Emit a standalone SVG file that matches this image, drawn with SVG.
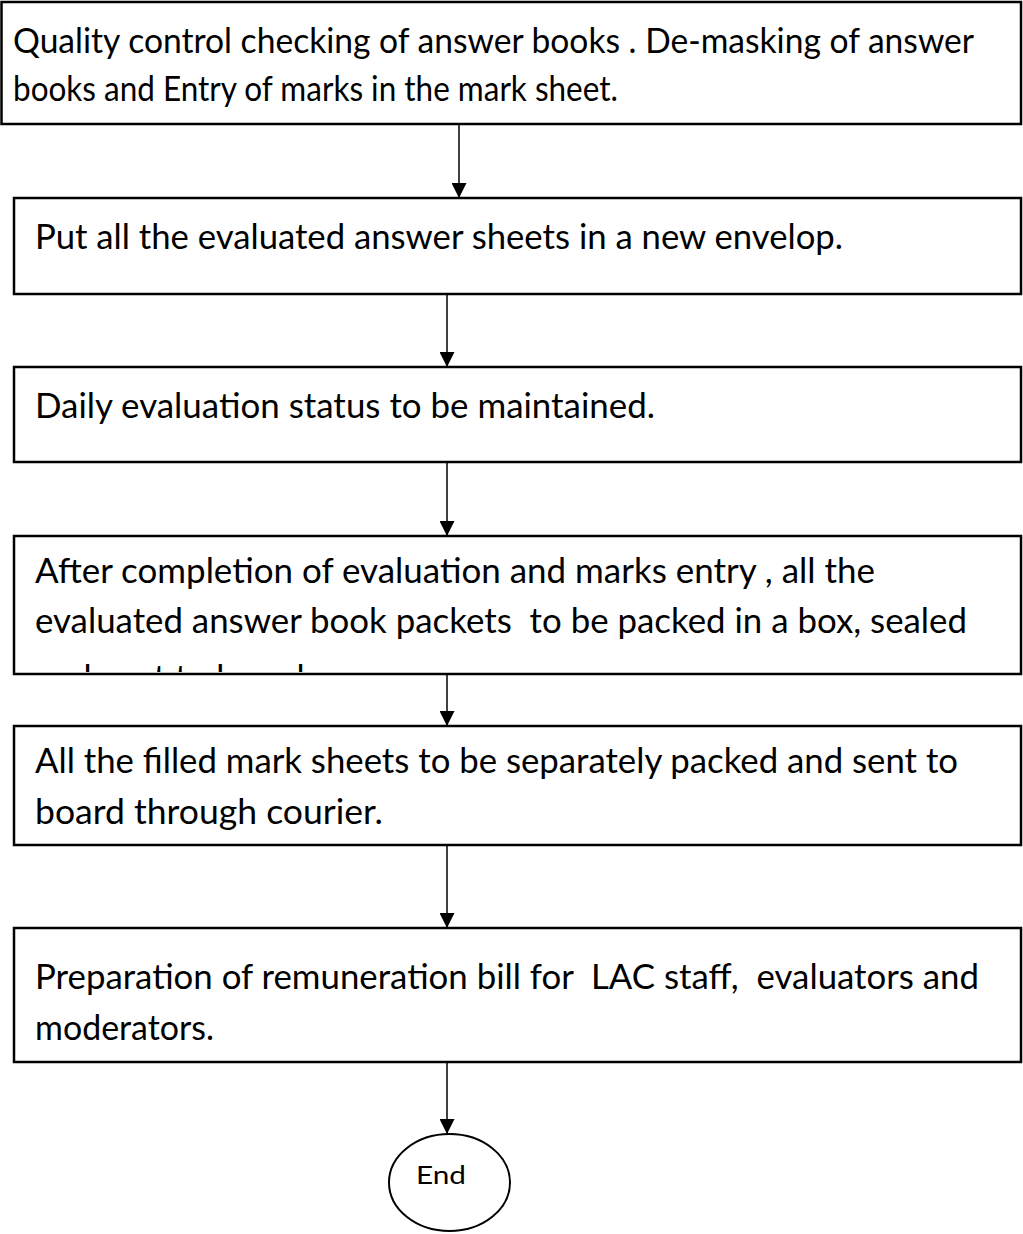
<svg xmlns="http://www.w3.org/2000/svg" width="1023" height="1234" viewBox="0 0 1023 1234">
  <defs>
    <marker id="arrow" viewBox="0 0 15 15" refX="15" refY="7.5" markerWidth="15" markerHeight="15" markerUnits="userSpaceOnUse" orient="auto">
      <path d="M0,0 L15,7.5 L0,15 Z" fill="#000"/>
    </marker>
    <clipPath id="clip4">
      <rect x="14" y="537" width="1006" height="135"/>
    </clipPath>
  </defs>
  <style>
    .box { fill: #fff; stroke: #000; stroke-width: 2.5; }
    .lbl { font-family: Lato, "Open Sans", "Liberation Sans", sans-serif; font-size: 35px; fill: #000; }
    .end { font-family: Lato, "Open Sans", "Liberation Sans", sans-serif; font-size: 25px; fill: #000; }
    .conn { stroke: #000; stroke-width: 1.5; fill: none; marker-end: url(#arrow); }
  </style>
  <rect width="1023" height="1234" fill="#fff"/>

  <!-- connectors -->
  <g id="connectors">
    <line class="conn" x1="459" y1="124" x2="459" y2="198"/>
    <line class="conn" x1="447" y1="294" x2="447" y2="367"/>
    <line class="conn" x1="447" y1="462" x2="447" y2="536"/>
    <line class="conn" x1="447" y1="674" x2="447" y2="726"/>
    <line class="conn" x1="447" y1="845" x2="447" y2="928"/>
    <line class="conn" x1="447" y1="1062" x2="447" y2="1134"/>
  </g>

  <g id="step1">
    <rect class="box" x="1.5" y="2" width="1019.5" height="122"/>
    <text class="lbl" x="13" y="53" textLength="961" lengthAdjust="spacingAndGlyphs">Quality control checking of answer books . De-masking of answer</text>
    <text class="lbl" x="13" y="101" textLength="605" lengthAdjust="spacingAndGlyphs">books and Entry of marks in the mark sheet.</text>
  </g>

  <g id="step2">
    <rect class="box" x="14" y="198" width="1007" height="96"/>
    <text class="lbl" x="35" y="249" textLength="808" lengthAdjust="spacingAndGlyphs">Put all the evaluated answer sheets in a new envelop.</text>
  </g>

  <g id="step3">
    <rect class="box" x="14" y="367" width="1007" height="95"/>
    <text class="lbl" x="35" y="418" textLength="620" lengthAdjust="spacingAndGlyphs">Daily evaluation status to be maintained.</text>
  </g>

  <g id="step4">
    <rect class="box" x="14" y="536" width="1007" height="138"/>
    <g clip-path="url(#clip4)">
      <text class="lbl" x="35" y="583" textLength="840" lengthAdjust="spacingAndGlyphs">After completion of evaluation and marks entry , all the</text>
      <text class="lbl" x="35" y="633" textLength="932" lengthAdjust="spacingAndGlyphs" xml:space="preserve">evaluated answer book packets  to be packed in a box, sealed</text>
      <text class="lbl" x="35" y="690">and sent to board.</text>
    </g>
  </g>

  <g id="step5">
    <rect class="box" x="14" y="726" width="1007" height="119"/>
    <text class="lbl" x="35" y="773" textLength="923" lengthAdjust="spacingAndGlyphs">All the filled mark sheets to be separately packed and sent to</text>
    <text class="lbl" x="35" y="824" textLength="348" lengthAdjust="spacingAndGlyphs">board through courier.</text>
  </g>

  <g id="step6">
    <rect class="box" x="14" y="928" width="1007" height="134"/>
    <text class="lbl" x="35" y="989" textLength="944" lengthAdjust="spacingAndGlyphs" xml:space="preserve">Preparation of remuneration bill for  LAC staff,  evaluators and</text>
    <text class="lbl" x="35" y="1040" textLength="179" lengthAdjust="spacingAndGlyphs">moderators.</text>
  </g>

  <g id="end">
    <ellipse cx="449.5" cy="1182.5" rx="60.5" ry="48.5" fill="#fff" stroke="#000" stroke-width="2"/>
    <text class="end" x="441" y="1184" text-anchor="middle" textLength="50" lengthAdjust="spacingAndGlyphs">End</text>
  </g>
</svg>
